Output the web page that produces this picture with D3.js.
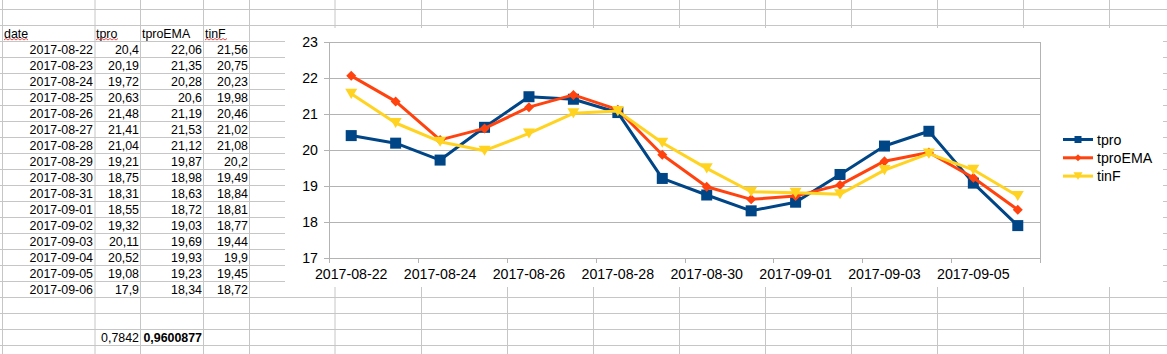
<!DOCTYPE html>
<html><head><meta charset="utf-8">
<script src="https://cdn.jsdelivr.net/npm/d3@7"></script>
<style>html,body{margin:0;padding:0;background:#fff;}svg{display:block;font-family:"Liberation Sans",Arial,sans-serif;}</style>
</head><body><svg id="c" width="1167" height="354"></svg>
<script>
const dates = ["2017-08-22","2017-08-23","2017-08-24","2017-08-25","2017-08-26","2017-08-27","2017-08-28","2017-08-29","2017-08-30","2017-08-31","2017-09-01","2017-09-02","2017-09-03","2017-09-04","2017-09-05","2017-09-06"];
const tpro = [20.4,20.19,19.72,20.63,21.48,21.41,21.04,19.21,18.75,18.31,18.55,19.32,20.11,20.52,19.08,17.9];
const tproEMA = [22.06,21.35,20.28,20.6,21.19,21.53,21.12,19.87,18.98,18.63,18.72,19.03,19.69,19.93,19.23,18.34];
const tinF = [21.56,20.75,20.23,19.98,20.46,21.02,21.08,20.2,19.49,18.84,18.81,18.77,19.44,19.9,19.45,18.72];
const headers = ["date","tpro","tproEMA","tinF"];
const footerValues = ["0,7842","0,9600877"];
const yTicks = [17,18,19,20,21,22,23];
const seriesNames = ["tpro","tproEMA","tinF"];
const seriesColors = ["#004586","#ff420e","#ffd320"];

const svg = d3.select("#c");
svg.append("rect").attr("width",1167).attr("height",354).attr("fill","#fff");

// ---- spreadsheet grid ----
const grid = svg.append("g").attr("stroke","#c6c6c6").attr("stroke-width",1);
const colX = [2.5,95,140.5,203.5,249.5,335,421.5,507.5,593.5,679.5,765.5,851.5,937.5,1023.5,1109.5];
const rowY = d3.range(0,22).map(i=>9.5+16*i);
rowY.forEach(y=>grid.append("line").attr("x1",0).attr("x2",1167).attr("y1",y).attr("y2",y));
colX.forEach(x=>grid.append("line").attr("x1",x).attr("x2",x).attr("y1",0).attr("y2",354));

const fmt = v => String(v).replace(".",",");
const cellFont = "12.4px";
const rowTop = i => 25 + 16*i; // i=0 header
const colRight = [93,139,202,248];
const colLeft = [4,96,142,205];
const tbl = svg.append("g").attr("font-size",cellFont).attr("fill","#000");
headers.forEach((h,j)=>tbl.append("text").attr("x",colLeft[j]).attr("y",rowTop(0)+13).text(h));
// spellcheck wavy underlines
[[4,28],[96,118],[205,227]].forEach(([a,b])=>{
  let p = `M${a},40`; let up=true;
  for(let x=a+2;x<=b;x+=2){p+=`L${x},${up?38.5:40}`;up=!up;}
  svg.append("path").attr("d",p).attr("fill","none").attr("stroke","#e02020").attr("stroke-width",0.8);
});
const cols = [dates,tpro,tproEMA,tinF];
dates.forEach((d,i)=>{
  cols.forEach((c,j)=>{
    tbl.append("text").attr("x",colRight[j]).attr("y",rowTop(i+1)+13).attr("text-anchor","end")
      .text(j===0?c[i]:fmt(c[i]));
  });
});
tbl.append("text").attr("x",colRight[1]).attr("y",rowTop(19)+13).attr("text-anchor","end").text(footerValues[0]);
tbl.append("text").attr("x",colRight[2]).attr("y",rowTop(19)+13).attr("text-anchor","end").attr("font-weight","bold").text(footerValues[1]);

// ---- chart ----
svg.append("rect").attr("x",285).attr("y",28).attr("width",878).attr("height",259).attr("fill","#fff");
const x = d3.scaleBand().domain(dates).range([329,1040]).padding(0);
const y = d3.scaleLinear().domain([17,23]).range([258,42]);
const axisCol = "#b3b3b3";
const cg = svg.append("g");
// gridlines
yTicks.forEach(t=>cg.append("line").attr("x1",324).attr("x2",1040).attr("y1",Math.round(y(t))+0.5).attr("y2",Math.round(y(t))+0.5).attr("stroke",axisCol));
// axis lines
cg.append("line").attr("x1",329.5).attr("x2",329.5).attr("y1",42).attr("y2",263).attr("stroke",axisCol);
const bounds = dates.map((d,i)=>i).filter(i=>i%2===0).map(i=>x(dates[i])).concat([x.range()[1]]);
bounds.forEach(b=>cg.append("line").attr("x1",Math.round(b)+0.5).attr("x2",Math.round(b)+0.5).attr("y1",b>=1039?42:258).attr("y2",263).attr("stroke",axisCol));
// y labels
yTicks.forEach(t=>cg.append("text").attr("x",318).attr("y",y(t)+5).attr("text-anchor","end").attr("font-size","14.2px").attr("fill","#000").text(t));
// x labels
dates.forEach((d,i)=>{ if(i%2===0) cg.append("text").attr("x",x(d)+x.bandwidth()/2).attr("y",279).attr("text-anchor","middle").attr("font-size","14.2px").attr("fill","#000").text(d); });

function marker(g,type,cx,cy,color,s){
  if(type===0) g.append("rect").attr("x",cx-s/2).attr("y",cy-s/2).attr("width",s).attr("height",s).attr("fill",color);
  else if(type===1) g.append("path").attr("d",`M${cx},${cy-s/2}L${cx+s/2},${cy}L${cx},${cy+s/2}L${cx-s/2},${cy}Z`).attr("fill",color);
  else g.append("path").attr("d",`M${cx-s/2},${cy-s*0.42}L${cx+s/2},${cy-s*0.42}L${cx},${cy+s*0.42}Z`).attr("fill",color);
}
const allSeries = [tpro,tproEMA,tinF];
const msize = [11,10,12];
const line = d3.line().x((v,i)=>x(dates[i])+x.bandwidth()/2).y(v=>y(v));
allSeries.forEach((s,k)=>{
  const g = svg.append("g");
  g.append("path").attr("d",line(s)).attr("fill","none").attr("stroke",seriesColors[k]).attr("stroke-width",3).attr("stroke-linejoin","round");
  s.forEach((v,i)=>marker(g,k,x(dates[i])+x.bandwidth()/2,y(v),seriesColors[k],msize[k]));
});
// legend
const lg = svg.append("g");
seriesNames.forEach((n,k)=>{
  const ly = 139.5 + k*18.3;
  lg.append("line").attr("x1",1063).attr("x2",1093).attr("y1",ly).attr("y2",ly).attr("stroke",seriesColors[k]).attr("stroke-width",3);
  marker(lg,k,1078,ly,seriesColors[k],[7,7,9][k]);
  lg.append("text").attr("x",1097).attr("y",ly+5).attr("font-size","14.2px").attr("fill","#000").text(n);
});
</script></body></html>
